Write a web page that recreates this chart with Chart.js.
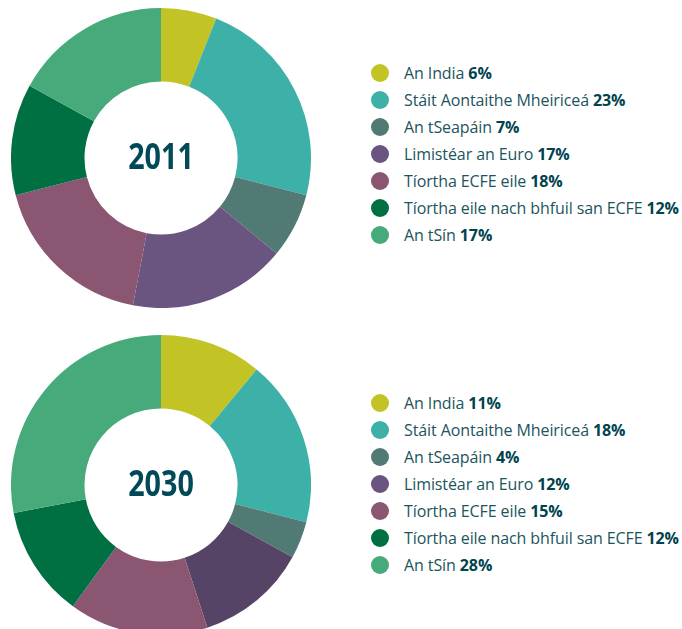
<!DOCTYPE html>
<html>
<head>
<meta charset="utf-8">
<script src="https://cdn.jsdelivr.net/npm/chart.js@4.4.1/dist/chart.umd.min.js"></script>
<style>
  html, body { margin: 0; padding: 0; background: #fff; width: 682px; height: 629px; overflow: hidden; }
  .wrap { position: absolute; left: 11px; width: 300px; height: 300px; }
  .legend { position: absolute; left: 371px; font-family: "Open Sans", sans-serif; font-size: 16px; letter-spacing: -0.1px; color: #1c5460; }
  .row { display: flex; align-items: center; height: 27px; white-space: nowrap; }
  .dot { width: 18px; height: 18px; border-radius: 50%; margin-right: 15px; flex: none; }
  .row b { color: #00434f; font-weight: 700; }
</style>
</head>
<body>
<div class="wrap" style="top:8px"><canvas id="chart2011" width="300" height="300"></canvas></div>
<div class="legend" id="legend2011" style="top:59px"></div>
<div class="wrap" style="top:335px"><canvas id="chart2030" width="300" height="300"></canvas></div>
<div class="legend" id="legend2030" style="top:389px"></div>
<script>
const regions = [
  "An India",
  "Stáit Aontaithe Mheiriceá",
  "An tSeapáin",
  "Limistéar an Euro",
  "Tíortha ECFE eile",
  "Tíortha eile nach bhfuil san ECFE",
  "An tSín",
];
const share2011 = [6, 23, 7, 17, 18, 12, 17];
const share2030 = [11, 18, 4, 12, 15, 12, 28];

const legendColors = ["#c1c424", "#3db0a7", "#527a74", "#6a5480", "#8b5672", "#007042", "#47aa7a"];
const colors2011 = ["#c1c424", "#3db0a7", "#527a74", "#6a5480", "#8b5672", "#007042", "#47aa7a"];
const colors2030 = ["#c1c424", "#3db0a7", "#527a74", "#564467", "#8b5672", "#007042", "#47aa7a"];

// year in the hole of the doughnut
const centerText = {
  id: "centerText",
  afterDraw(chart, args, opts) {
    const { ctx } = chart;
    const meta = chart.getDatasetMeta(0).data[0];
    ctx.save();
    ctx.translate(meta.x, meta.y);
    ctx.scale(0.82, 1);
    ctx.font = "bold 35px 'Open Sans', sans-serif";
    ctx.fillStyle = "#004a58";
    ctx.textAlign = "center";
    ctx.textBaseline = "middle";
    ctx.fillText(opts.text, 0, 1);
    ctx.restore();
  },
};

function makeChart(id, values, colors, year) {
  new Chart(document.getElementById(id), {
    type: "doughnut",
    data: {
      labels: regions,
      datasets: [
        {
          data: values,
          backgroundColor: colors,
          borderWidth: 0,
        },
      ],
    },
    options: {
      responsive: false,
      animation: false,
      cutout: "51%",
      layout: { padding: 0 },
      plugins: {
        legend: { display: false },
        tooltip: { enabled: false },
        centerText: { text: year },
      },
    },
    plugins: [centerText],
  });
}

function makeLegend(id, values) {
  const box = document.getElementById(id);
  regions.forEach((name, i) => {
    const row = document.createElement("div");
    row.className = "row";
    row.innerHTML = `<span class="dot" style="background:${legendColors[i]}"></span>${name}&nbsp;<b>${values[i]}%</b>`;
    box.appendChild(row);
  });
}

makeChart("chart2011", share2011, colors2011, "2011");
makeChart("chart2030", share2030, colors2030, "2030");
makeLegend("legend2011", share2011);
makeLegend("legend2030", share2030);
</script>
</body>
</html>
